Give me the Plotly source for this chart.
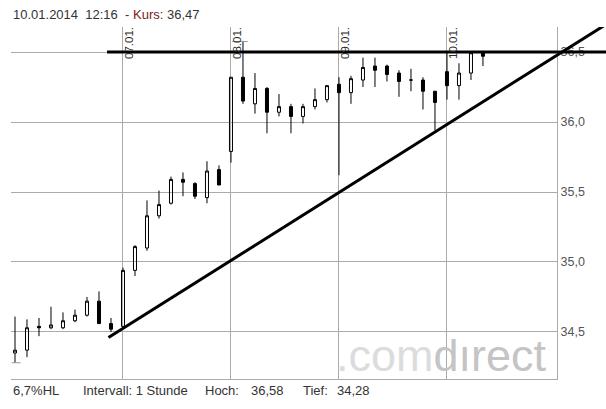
import plotly.graph_objects as go

# ---- data (hourly candles, index 0 = 06.01. 09:00) ----
idx = list(range(40))
opens = [34.35, 34.37, 34.54, 34.53, 34.53, 34.58, 34.62, 34.72, 34.56,
         34.54, 34.94, 35.10, 35.33, 35.42, 35.59, 35.56, 35.46, 35.66,
         35.79, 36.32, 36.13, 36.24, 36.07, 36.11, 36.04, 36.11, 36.16,
         36.27, 36.21, 36.30, 36.40, 36.40, 36.35, 36.30, 36.30, 36.22,
         36.36, 36.26, 36.35, 36.495]
highs = [34.61, 34.59, 34.60, 34.68, 34.64, 34.66, 34.75, 34.79, 34.60,
         34.96, 35.12, 35.44, 35.51, 35.61, 35.64, 35.57, 35.72, 35.69,
         36.32, 36.58, 36.35, 36.25, 36.20, 36.13, 36.13, 36.24, 36.26,
         36.32, 36.33, 36.46, 36.46, 36.41, 36.37, 36.38, 36.32, 36.22,
         36.50, 36.42, 36.50, 36.50]
lows = [34.28, 34.32, 34.47, 34.52, 34.52, 34.57, 34.61, 34.56, 34.50,
        34.53, 34.90, 35.08, 35.31, 35.41, 35.47, 35.45, 35.42, 35.55,
        35.71, 36.13, 36.06, 35.92, 36.04, 35.92, 35.99, 36.09, 36.14,
        35.62, 36.13, 36.25, 36.25, 36.29, 36.18, 36.22, 36.09, 35.94,
        36.16, 36.16, 36.30, 36.40]
closes = [34.37, 34.53, 34.53, 34.55, 34.58, 34.62, 34.72, 34.56, 34.52,
          34.94, 35.11, 35.33, 35.41, 35.59, 35.57, 35.47, 35.65, 35.55,
          36.32, 36.15, 36.24, 36.07, 36.11, 36.04, 36.11, 36.16, 36.26,
          36.21, 36.31, 36.39, 36.37, 36.34, 36.29, 36.30, 36.22, 36.14,
          36.26, 36.35, 36.495, 36.47]

day_ticks = [9, 18, 27, 36]
day_labels = ["07.01.", "08.01.", "09.01.", "10.01."]
y_ticks = [34.5, 35.0, 35.5, 36.0, 36.5]

# chart lines (drawn by the user in the original)
resistance_x = [7.67, 49.3]
resistance_y = [36.5, 36.5]
trend_x = [7.79, 49.3]
trend_y = [34.46, 36.70]

low_mark = {"x": [-0.28, 0.48], "y": 34.28}
high_mark = {"x": [18.1, 19.4], "y": 36.575}

XMIN, XMAX = -0.333, 45.17
YMIN, YMAX = 34.164, 36.679

GRID = "#ababab"
FONT = "Liberation Sans, Arial, sans-serif"


def xp(k):
    return (k - XMIN) / (XMAX - XMIN)


fig = go.Figure()
fig.add_trace(go.Scatter(x=low_mark["x"], y=[low_mark["y"]] * 2, mode="lines",
                         line=dict(color="#9a9a9a", width=1), hoverinfo="skip",
                         showlegend=False))
fig.add_trace(go.Scatter(x=high_mark["x"], y=[high_mark["y"]] * 2, mode="lines",
                         line=dict(color="#9a9a9a", width=1), hoverinfo="skip",
                         showlegend=False))
fig.add_trace(go.Candlestick(
    x=idx, open=opens, high=highs, low=lows, close=closes,
    increasing=dict(line=dict(color="black", width=1), fillcolor="rgba(0,0,0,0)"),
    decreasing=dict(line=dict(color="black", width=1), fillcolor="black"),
    whiskerwidth=0, showlegend=False, hoverinfo="skip"))

shapes = [
    dict(type="line", xref="paper", yref="y", x0=xp(resistance_x[0]), x1=xp(resistance_x[1]),
         y0=resistance_y[0], y1=resistance_y[1], line=dict(color="black", width=3), layer="above"),
    dict(type="line", xref="paper", yref="y", x0=xp(trend_x[0]), x1=xp(trend_x[1]),
         y0=trend_y[0], y1=trend_y[1], line=dict(color="black", width=3), layer="above"),
]

ann = []
for k, lab in zip(day_ticks, day_labels):
    ann.append(dict(xref="x", yref="paper", x=k, y=1, xanchor="left", yanchor="top",
                    text=lab, textangle=-90, showarrow=False, borderpad=0,
                    font=dict(family=FONT, size=11.5, color="#2a2a2a"), xshift=-1, yshift=1))


def px_x(p):
    return (p - 11) / 546.0


def px_y(p):
    return (379 - p) / 352.0


ann.append(dict(xref="paper", yref="paper", x=px_x(11.5), y=px_y(15), xanchor="left", yanchor="middle",
                text="10.01.2014\u00a0\u00a012:16\u00a0\u00a0- <span style='color:#7a1a1a'>Kurs:</span> 36,47",
                showarrow=False, borderpad=0, font=dict(family=FONT, size=13, color="#333333")))

footer = [("6,7%HL", 11.5), ("Intervall: 1 Stunde", 81.5), ("Hoch:", 204), ("36,58", 250),
          ("Tief:", 301.5), ("34,28", 336)]
for t, p in footer:
    ann.append(dict(xref="paper", yref="paper", x=px_x(p), y=px_y(390), xanchor="left", yanchor="middle",
                    text=t, showarrow=False, borderpad=0,
                    font=dict(family=FONT, size=13, color="#333333")))

ann.append(dict(xref="paper", yref="paper", x=px_x(335), y=px_y(355), xanchor="left", yanchor="middle",
                text="<span style='color:#dcdcdc'>.com</span><span style='color:#c4c4c4'>d\u0131rect</span>",
                showarrow=False, borderpad=0, font=dict(family=FONT, size=45)))

fig.update_layout(
    width=606, height=409, autosize=False,
    margin=dict(l=11, r=49, t=27, b=30, pad=0),
    paper_bgcolor="white", plot_bgcolor="white",
    separators=",.",
    boxgap=0.75, boxgroupgap=0,
    showlegend=False,
    shapes=shapes, annotations=ann,
    xaxis=dict(range=[XMIN, XMAX], tickvals=day_ticks, showticklabels=False, ticks="",
               showgrid=True, gridcolor=GRID, gridwidth=1, zeroline=False,
               showline=True, linecolor=GRID, linewidth=1, rangeslider=dict(visible=False),
               fixedrange=True),
    yaxis=dict(range=[YMIN, YMAX], side="right", tickvals=y_ticks, tickformat=".1f", ticks="",
               showgrid=True, gridcolor=GRID, gridwidth=1, zeroline=False,
               showline=True, linecolor=GRID, linewidth=1,
               tickfont=dict(family=FONT, size=12.5, color="#555555"), fixedrange=True),
)

fig.write_html("out.html", config={"displayModeBar": False, "staticPlot": True},
               post_script="document.body.style.margin='0';document.body.style.overflow='hidden';")
